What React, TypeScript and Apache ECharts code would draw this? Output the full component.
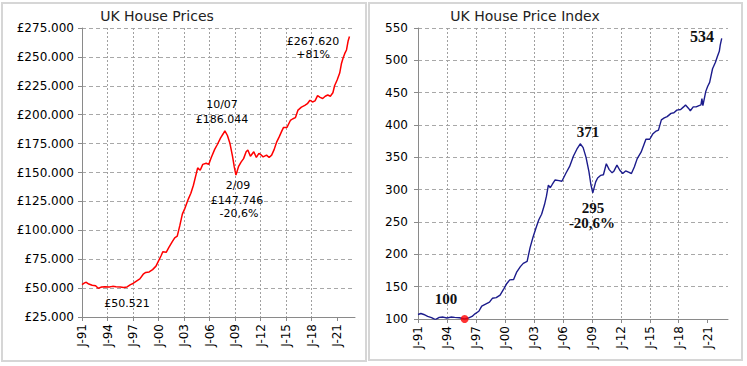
import React, { useEffect, useRef } from 'react';
import * as echarts from 'echarts';

// ---- Left chart: UK average house price (GBP) ----
const priceYears = [
  1991.0, 1991.3, 1991.5, 1991.8, 1992.2, 1992.6, 1992.9, 1993.3, 1993.7, 1994.2,
  1994.6, 1995.0, 1995.5, 1995.9, 1996.3, 1996.7, 1997.0, 1997.4, 1997.8, 1998.2,
  1998.5, 1998.9, 1999.3, 1999.7, 2000.0, 2000.3, 2000.5, 2000.9, 2001.2, 2001.6,
  2001.9, 2002.2, 2002.5, 2002.8, 2003.1, 2003.5, 2003.8, 2004.1, 2004.4, 2004.6,
  2004.9, 2005.2, 2005.6, 2005.9, 2006.2, 2006.6, 2006.9, 2007.3, 2007.6, 2007.8,
  2008.1, 2008.4, 2008.7, 2008.9, 2009.1, 2009.4, 2009.7, 2010.0, 2010.3, 2010.5,
  2010.8, 2011.0, 2011.2, 2011.5, 2011.8, 2012.1, 2012.3, 2012.7, 2013.0, 2013.3,
  2013.6, 2013.9, 2014.2, 2014.5, 2014.7, 2015.1, 2015.5, 2015.8, 2016.1, 2016.4,
  2016.8, 2017.2, 2017.5, 2017.8, 2018.1, 2018.4, 2018.7, 2019.0, 2019.3, 2019.6,
  2019.9, 2020.2, 2020.5, 2020.7, 2021.0, 2021.3, 2021.5, 2021.7, 2021.9, 2022.1,
  2022.3, 2022.45,
];
const prices = [
  53000, 54500, 55000, 53500, 52500, 52000, 49800, 51000, 51200, 50900,
  51500, 51200, 50900, 50521, 51000, 53000, 54000, 56000, 58000, 62000,
  63500, 64000, 66000, 69000, 73500, 78000, 81500, 81000, 85000, 90000,
  93500, 95000, 104000, 114000, 119000, 127000, 132000, 139000, 148000, 154000,
  152000, 157000, 158000, 157000, 163000, 170000, 174000, 180000, 183500, 186044,
  182000, 175000, 164000, 155000, 147746, 155000, 159000, 162000, 168000, 169500,
  164000, 166000, 168000, 163000, 166500, 165000, 163500, 165000, 163000, 165000,
  170000, 176500, 181000, 186000, 189000, 189000, 195000, 196500, 197500, 204000,
  206500, 208000, 209500, 212500, 211000, 212000, 216500, 215000, 214000, 216000,
  217000, 216000, 219000, 225000, 230000, 236000, 244000, 249000, 253000, 256000,
  264000, 267620,
];

// ---- Right chart: UK house price index ----
const indexYears = [
  1991.0, 1991.3, 1991.6, 1992.0, 1992.4, 1992.8, 1993.2, 1993.6, 1994.0, 1994.4,
  1994.8, 1995.3, 1995.83, 1996.2, 1996.6, 1996.9, 1997.3, 1997.6, 1998.0, 1998.4,
  1998.7, 1999.1, 1999.5, 1999.9, 2000.2, 2000.5, 2000.9, 2001.2, 2001.6, 2001.9,
  2002.3, 2002.6, 2002.9, 2003.2, 2003.5, 2003.8, 2004.1, 2004.3, 2004.5, 2004.7,
  2004.9, 2005.2, 2005.6, 2005.9, 2006.3, 2006.7, 2007.1, 2007.5, 2007.8, 2008.1,
  2008.4, 2008.7, 2008.9, 2009.1, 2009.4, 2009.6, 2009.9, 2010.2, 2010.5, 2010.8,
  2011.1, 2011.3, 2011.6, 2011.9, 2012.2, 2012.5, 2012.8, 2013.1, 2013.4, 2013.7,
  2014.1, 2014.4, 2014.6, 2015.0, 2015.3, 2015.6, 2015.9, 2016.2, 2016.5, 2016.8,
  2017.2, 2017.5, 2017.8, 2018.2, 2018.5, 2018.7, 2019.0, 2019.2, 2019.5, 2019.8,
  2020.1, 2020.3, 2020.4, 2020.5, 2020.8, 2021.0, 2021.2, 2021.5, 2021.8, 2022.0,
  2022.2, 2022.3, 2022.45,
];
const indexValues = [
  107, 108.5, 107, 104, 102, 99, 102.5, 103, 101.5, 103,
  102.5, 102, 100, 101.5, 104, 108, 112, 120, 123, 126,
  132, 133, 137, 147, 155, 160.5, 161, 172, 181, 186,
  189, 210, 226, 240, 253, 262, 277, 290, 307, 303,
  308, 315, 314, 313, 325, 336, 352, 364, 371, 365,
  350, 328, 308, 295, 312, 318, 322, 323, 340, 331,
  326, 329, 338, 330, 325, 329, 327, 325, 335, 348,
  358, 370, 378, 378, 386, 390, 392, 408, 411, 413,
  418, 419, 423, 424, 428, 431, 426, 422, 428, 428,
  430, 431, 441, 430, 452, 460, 466, 487, 497, 506,
  514, 524, 534,
];
const baseYear = [1995.83];
const baseIndex = [100];

const xTickYears = [1991, 1994, 1997, 2000, 2003, 2006, 2009, 2012, 2015, 2018, 2021];

const AXIS_FONT = 'DejaVu Sans';
const ANNO_SERIF = 'Liberation Serif';

function yearLabel(v: number): string {
  const yy = Math.round(v) % 100;
  return 'J-' + String(yy).padStart(2, '0');
}
function poundLabel(v: number): string {
  const th = Math.floor(v / 1000);
  const rest = Math.round(v % 1000);
  return '£' + th + '.' + String(rest).padStart(3, '0');
}

function xAxisCfg(gridIndex: number) {
  return {
    type: 'value',
    gridIndex,
    min: 1991,
    max: 2023.1,
    interval: 3,
    axisLine: { show: true, onZero: false, lineStyle: { color: '#8a8a8a', width: 1 } },
    axisTick: { show: true, length: 4, customValues: xTickYears, lineStyle: { color: '#8a8a8a' } },
    axisLabel: {
      rotate: 90,
      customValues: xTickYears,
      formatter: yearLabel,
      fontFamily: AXIS_FONT,
      fontSize: 12,
      color: '#000',
      margin: 7,
    },
    splitLine: {
      show: true,
      showMinLine: false,
      showMaxLine: false,
      lineStyle: { color: '#a0a0a0', type: [2, 2], width: 1 },
    },
  };
}

export default function App() {
  const ref = useRef<HTMLDivElement>(null);
  useEffect(() => {
    if (!ref.current) return;
    const chart = echarts.init(ref.current, null, { renderer: 'svg' });
    const priceData = priceYears.map((y, i) => [y, prices[i]]);
    const indexData = indexYears.map((y, i) => [y, indexValues[i]]);
    const baseData = baseYear.map((y, i) => [y, baseIndex[i]]);

    const annoSans = (text: string, x: number, y: number) => ({
      type: 'text',
      x,
      y,
      style: {
        text,
        fontFamily: AXIS_FONT,
        fontSize: 11,
        fill: '#000',
        align: 'center',
        verticalAlign: 'middle',
      },
      z: 100,
    });
    const annoSerif = (text: string, x: number, y: number, size = 15) => ({
      type: 'text',
      x,
      y,
      style: {
        text,
        fontFamily: ANNO_SERIF,
        fontWeight: 'bold',
        fontSize: size,
        fill: '#111',
        align: 'center',
        verticalAlign: 'middle',
      },
      z: 100,
    });

    const option: any = {
      animation: false,
      backgroundColor: '#ffffff',
      title: [
        {
          text: 'UK House Prices',
          left: 157,
          top: 9,
          textAlign: 'center',
          padding: 0,
          textStyle: { fontFamily: AXIS_FONT, fontSize: 14, fontWeight: 'normal', color: '#222' },
        },
        {
          text: 'UK House Price Index',
          left: 525,
          top: 9,
          textAlign: 'center',
          padding: 0,
          textStyle: { fontFamily: AXIS_FONT, fontSize: 14, fontWeight: 'normal', color: '#222' },
        },
      ],
      grid: [
        { left: 82, top: 28, width: 273, height: 289, containLabel: false },
        { left: 418, top: 28, width: 310, height: 291, containLabel: false },
      ],
      xAxis: [xAxisCfg(0), xAxisCfg(1)],
      yAxis: [
        {
          type: 'value',
          gridIndex: 0,
          min: 25000,
          max: 275000,
          interval: 25000,
          axisLine: { show: true, lineStyle: { color: '#8a8a8a' } },
          axisTick: { show: true, length: 4, lineStyle: { color: '#8a8a8a' } },
          axisLabel: {
            formatter: poundLabel,
            fontFamily: AXIS_FONT,
            fontSize: 12,
            color: '#000',
            margin: 8,
          },
          splitLine: { show: true, lineStyle: { color: '#a8a8a8', type: [4, 3], width: 1 } },
        },
        {
          type: 'value',
          gridIndex: 1,
          min: 100,
          max: 550,
          interval: 50,
          axisLine: { show: true, lineStyle: { color: '#8a8a8a' } },
          axisTick: { show: true, length: 4, lineStyle: { color: '#8a8a8a' } },
          axisLabel: {
            fontFamily: AXIS_FONT,
            fontSize: 12,
            color: '#000',
            margin: 10,
          },
          splitLine: { show: true, lineStyle: { color: '#a8a8a8', type: [4, 3], width: 1 } },
        },
      ],
      series: [
        {
          name: 'UK House Prices',
          type: 'line',
          xAxisIndex: 0,
          yAxisIndex: 0,
          data: priceData,
          showSymbol: false,
          lineStyle: { color: '#ff0000', width: 1.5 },
          z: 5,
        },
        {
          name: 'UK House Price Index',
          type: 'line',
          xAxisIndex: 1,
          yAxisIndex: 1,
          data: indexData,
          showSymbol: false,
          lineStyle: { color: '#1c1c8c', width: 1.4 },
          z: 5,
        },
        {
          name: 'Base',
          type: 'scatter',
          xAxisIndex: 1,
          yAxisIndex: 1,
          data: baseData,
          symbol: 'circle',
          symbolSize: 8,
          clip: false,
          itemStyle: { color: '#ff0000' },
          z: 10,
        },
      ],
      graphic: [
        {
          type: 'rect',
          shape: { x: 2, y: 3, width: 364, height: 358 },
          style: { fill: 'none', stroke: '#d6d6d6', lineWidth: 2 },
          silent: true,
        },
        {
          type: 'rect',
          shape: { x: 369, y: 3, width: 373, height: 357 },
          style: { fill: 'none', stroke: '#d6d6d6', lineWidth: 2 },
          silent: true,
        },
        annoSans('£267.620', 313, 41),
        annoSans('+81%', 313, 54),
        annoSans('10/07', 222, 104),
        annoSans('£186.044', 222, 119),
        annoSans('2/09', 238, 185),
        annoSans('£147.746', 237, 200),
        annoSans('-20,6%', 239, 213),
        annoSans('£50.521', 127, 303),
        annoSerif('534', 702, 36, 16),
        annoSerif('371', 588, 132),
        annoSerif('295', 593, 208),
        annoSerif('-20,6%', 592, 223),
        annoSerif('100', 446, 299),
      ],
    };
    chart.setOption(option);
    return () => chart.dispose();
  }, []);
  return (
    <div
      ref={ref}
      style={{ position: 'absolute', left: 0, top: 0, width: 747, height: 366, background: '#fff' }}
    />
  );
}
